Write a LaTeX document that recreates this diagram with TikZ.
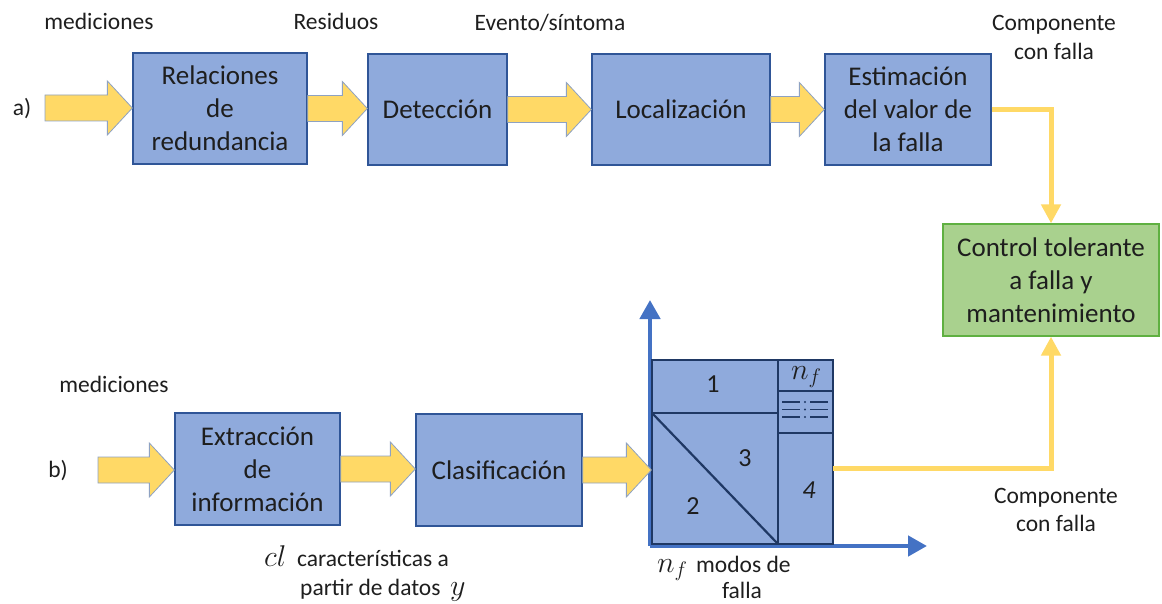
\documentclass[tikz,border=0pt]{standalone}
\usepackage{fix-cm}
\usepackage{fontspec}
\setmainfont{Carlito}
\usetikzlibrary{arrows.meta,calc}

\definecolor{boxblue}{HTML}{8FAADC}
\definecolor{boxline}{HTML}{2F5597}
\definecolor{navy}{HTML}{1F3864}
\definecolor{arrowyel}{HTML}{FFD966}
\definecolor{arrowedge}{HTML}{8EA2C2}
\definecolor{axisblue}{HTML}{4472C4}
\definecolor{ctrlfill}{HTML}{A9D18E}
\definecolor{ctrlline}{HTML}{5FB041}
\definecolor{ink}{HTML}{1E1E1E}

% fat yellow block arrow from the first anchor to the second one
\newcommand\fatarrow[2]{%
  \draw[fatarrowstyle] ($(#1)+(0,-13)$) -- ($(#2|-#1)+(-25,-13)$)
    -- ($(#2|-#1)+(-25,-27)$) -- (#2|-#1) -- ($(#2|-#1)+(-25,27)$)
    -- ($(#2|-#1)+(-25,13)$) -- ($(#1)+(0,13)$) -- cycle;}

\begin{document}
\begin{tikzpicture}[x=1pt,y=-1pt,
  blockbox/.style={draw=boxline, line width=1.3pt, fill=boxblue, text=ink,
    align=center, inner sep=0pt, font=\fontsize{27}{33}\selectfont},
  ctrlbox/.style={draw=ctrlline, line width=1.3pt, fill=ctrlfill, text=ink,
    align=center, inner sep=0pt, font=\fontsize{27}{33}\selectfont},
  lbl/.style={text=ink, inner sep=0pt, anchor=base, font=\fontsize{23.5}{28}\selectfont},
  cell/.style={text=ink, inner sep=0pt, font=\fontsize{26}{30}\selectfont},
  mathlbl/.style={text=ink, inner sep=0pt, anchor=base west, font=\fontsize{30}{32}\selectfont},
  fatarrowstyle/.style={fill=arrowyel, draw=arrowedge, line width=0.8pt, line join=miter},
  yline/.style={draw=arrowyel, line width=5pt, -{Triangle[width=19pt,length=19pt]}},
  axis/.style={draw=axisblue, line width=4.5pt, -{Triangle[width=20pt,length=19pt]}},
  partline/.style={draw=navy, line width=1.3pt},
]
\useasboundingbox (0,0) rectangle (1162,604);

% ---------- a) model based chain ----------
\coordinate (ina) at (45,108);
\node[blockbox, minimum width=174, minimum height=111] (rel) at (220,108.5) {Relaciones\\de\\redundancia};
\node[blockbox, minimum width=139, minimum height=111] (det) at (437.5,109.5) {Detección};
\node[blockbox, minimum width=178, minimum height=111] (loc) at (681,109.5) {Localización};
\node[blockbox, minimum width=166, minimum height=111] (est) at (908,109.5) {Estimación\\del valor de\\la falla};
\node[ctrlbox, minimum width=216, minimum height=112] (ctrl) at (1051,280) {Control tolerante\\a falla y\\mantenimiento};

\fatarrow{ina}{rel.west}
\fatarrow{rel.east}{det.west}
\fatarrow{det.east}{loc.west}
\fatarrow{loc.east}{est.west}

\node[lbl] (la) at (22,116) {a)};
\node[lbl] (m1) at (99,30) {mediciones};
\node[lbl] (res) at (336,30) {Residuos};
\node[lbl] (evt) at (550,31) {Evento/síntoma};
\node[lbl] (cf1) at (1054,31) {Componente};
\node[lbl] (cf1b) at (1054,60) {con falla};

\draw[yline] (est.east) -| (ctrl.north);

% ---------- b) data based chain ----------
\coordinate (inb) at (98,470);
\node[blockbox, minimum width=165, minimum height=112] (ext) at (257.5,469) {Extracción\\de\\información};
\node[blockbox, minimum width=166, minimum height=112] (cla) at (499,470) {Clasificación};

% feature space axes
\coordinate (orig) at (650,546);
\coordinate (ytip) at (650,300);
\coordinate (xtip) at (927,546);
\draw[axis] (orig) -- (ytip);
\draw[axis] (orig) -- (xtip);

% partition of the feature space into failure modes
\node[draw=navy, line width=1.3pt, fill=boxblue, inner sep=0pt,
  minimum width=181, minimum height=184] (part) at (742.5,452) {};
\draw[partline] (778,360) -- (778,544);
\draw[partline] (652,413) -- (778,413);
\draw[partline] (778,391) -- (833,391);
\draw[partline] (778,433) -- (833,433);
\draw[draw=navy, line width=2.2pt] (652,413) -- (778,544);
\foreach \yy in {402,409.5,417}{
  \draw[draw=navy, line width=1.3pt] (782,\yy) -- (800,\yy) (810,\yy) -- (828,\yy);
  \fill[navy] (805,\yy) circle (1.1);
}
\node[cell] (c1) at (713,384) {1};
\node[cell] (c3) at (745,458) {3};
\node[cell] (c2) at (693,506) {2};
\node[cell] (c4) at (809,490) {\itshape 4};
\node[text=ink, inner sep=0pt, anchor=base west, font=\fontsize{30}{32}\selectfont] (cnf) at (791,379) {$n_f$};

\fatarrow{inb}{ext.west}
\fatarrow{ext.east}{cla.west}
\fatarrow{cla.east}{part.west}

\coordinate (pout) at (833,468);
\draw[yline] (pout) -| (ctrl.south);

\node[lbl] (lb) at (58,477) {b)};
\node[lbl] (m2) at (114,392) {mediciones};
\node[lbl] (cf2) at (1056,503) {Componente};
\node[lbl] (cf2b) at (1056,531) {con falla};

\node[mathlbl] (cl) at (264,566) {$cl$};
\node[lbl, anchor=base west] (car) at (297,566) {características a};
\node[lbl, anchor=base west] (dat) at (300,595) {partir de datos};
\node[mathlbl] (yy) at (450,595) {$y$};

\node[mathlbl] (nf) at (657,572) {$n_f$};
\node[lbl, anchor=base west] (mod) at (696,572) {modos de};
\node[lbl] (fal) at (742,598) {falla};
\end{tikzpicture}
\end{document}
